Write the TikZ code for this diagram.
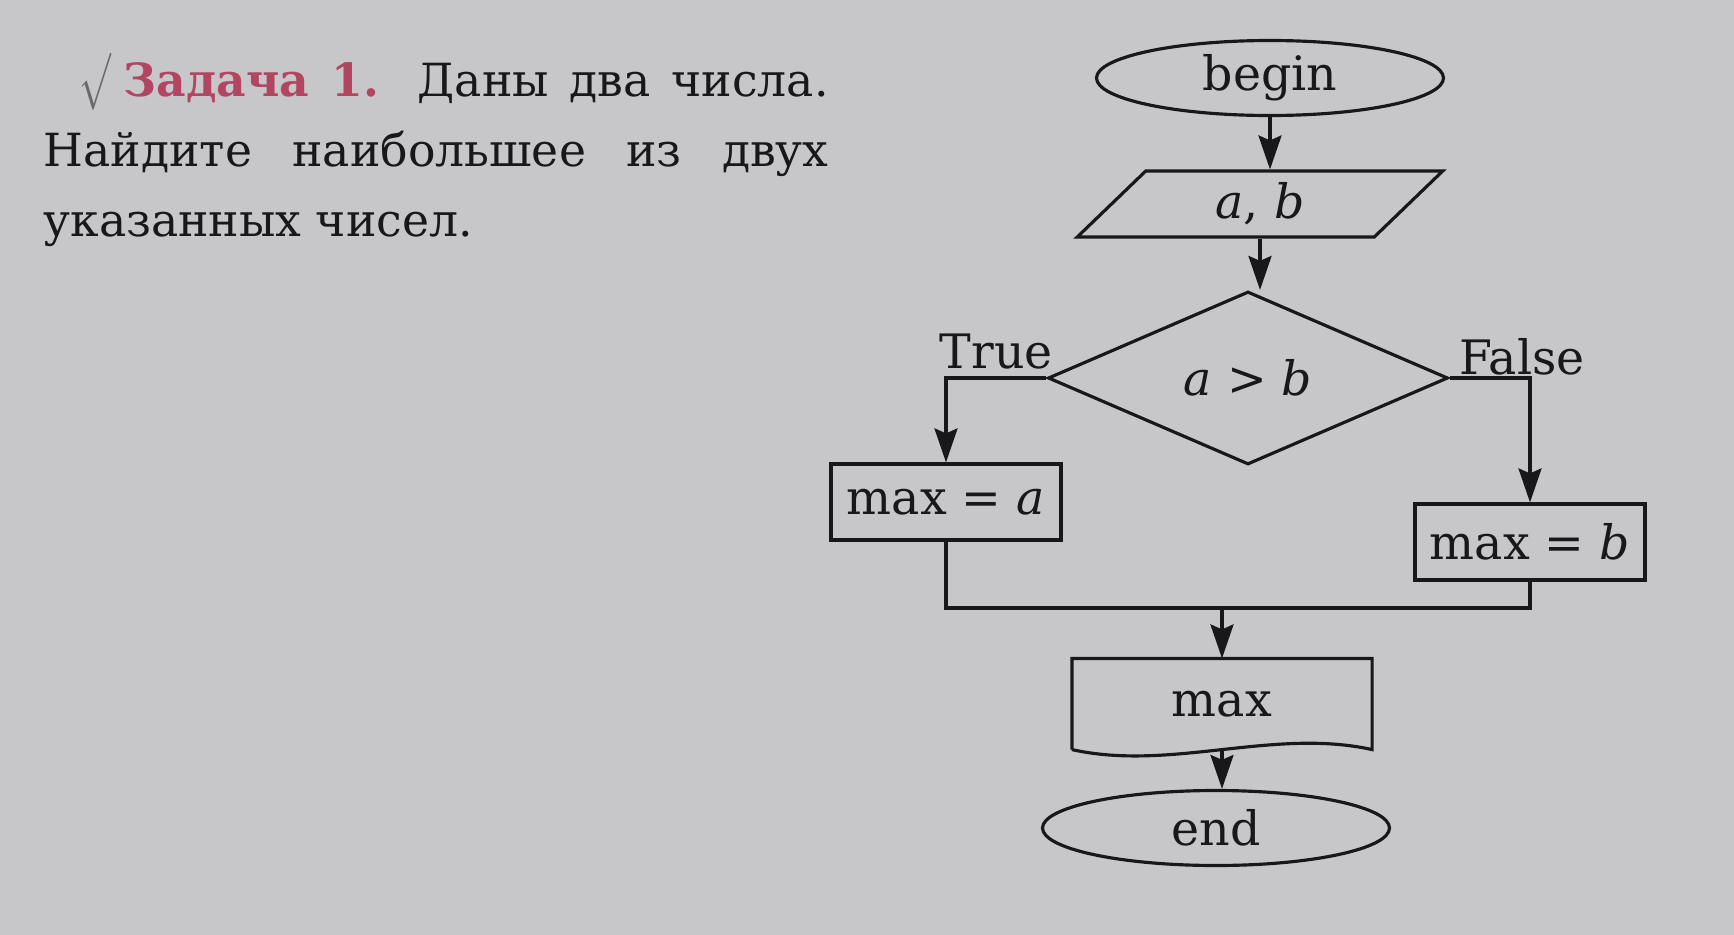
\documentclass[tikz,border=0pt]{standalone}
\usepackage{fontspec}
\usepackage{graphicx}
\setmainfont{DejaVu Serif}
\usetikzlibrary{arrows.meta,positioning,shapes.geometric,calc}
\definecolor{paper}{RGB}{199,199,201}
\definecolor{ink}{RGB}{24,24,26}
\definecolor{taskred}{RGB}{178,70,98}
\definecolor{tickgray}{RGB}{105,105,108}
\newcommand{\chartfont}{\fontsize{13.5}{16}\selectfont}
\newcommand{\taskfont}{\fontsize{13}{20}\selectfont}
\tikzset{
    % flowchart blocks
    terminal/.style={ellipse,draw,minimum width=3.47cm,minimum height=0.75cm,inner sep=0pt,font=\chartfont},
    inputbox/.style={trapezium,draw,trapezium left angle=63,trapezium right angle=117,trapezium stretches=true,minimum width=3.67cm,minimum height=0.64cm,font=\chartfont},
    decision/.style={diamond,draw,aspect=2.3,minimum width=4cm,minimum height=1.73cm,inner sep=0pt,font=\chartfont},
    process/.style={rectangle,draw,minimum width=2.3cm,minimum height=0.76cm,font=\chartfont},
    outputbox/.style={rectangle,minimum width=2.97cm,minimum height=0.88cm,font=\chartfont},
    branch/.style={font=\chartfont,inner sep=0pt},
    taskpara/.style={text width=7.85cm,align=justify,inner sep=0pt,font=\taskfont},
    % connectors
    arrow/.style={-{Stealth[length=3.4mm,width=2.3mm,inset=0.5mm]}},
    line/.style={-}
}

\begin{document}
\begin{tikzpicture}[color=ink,line width=0.9pt]
    % paper
    \fill[paper] (0,0) rectangle (17.34,-9.35);

    % task text
    \node[taskpara,anchor=north west] (task) at (0.42,-0.52) {\makebox[0.8cm][l]{\hspace{0.36cm}\textcolor{tickgray}{\scalebox{0.9}[1.35]{$\surd$}}}\textcolor{taskred}{\textbf{Задача 1.}} Даны два числа.\linebreak Найдите наибольшее из двух\linebreak указанных чисел.};

    % blocks
    \node[terminal] (begin) at (12.70,-0.78) {begin};
    \node[inputbox] (ab) at (12.60,-2.04) {\textit{a}, \textit{b}};
    \node[decision] (cmp) at (12.48,-3.78) {\textit{a} > \textit{b}};
    \node[process] (maxa) at (9.46,-5.02) {max = \textit{a}};
    \node[process] (maxb) at (15.30,-5.42) {max = \textit{b}};
    \node[outputbox] (out) at (12.22,-7.04) {max};
    \node[terminal] (end) at (12.16,-8.28) {end};

    % output block with wavy bottom
    \draw (out.south west) -- (out.north west) -- (out.north east) -- (out.south east)
        .. controls ($(out.south east)+(-0.99,0.22)$) and ($(out.south west)+(0.99,-0.22)$) .. (out.south west);

    % branch labels
    \node[branch,anchor=base east] (truelbl) at ($(cmp.west)+(0.08,0.1)$) {True};
    \node[branch,anchor=base west] (falselbl) at ($(cmp.east)+(0.08,0.04)$) {False};

    % merge point
    \coordinate (join) at (12.22,-6.08);

    % connectors
    \draw[arrow] (begin.south) -- (begin.south |- ab.north);
    \draw[arrow] (ab.south) -- (ab.south |- cmp.north);
    \draw[arrow] (cmp.west) -| (maxa.north);
    \draw[arrow] (cmp.east) -| (maxb.north);
    \draw[line] (maxa.south) |- (join) -| (maxb.south);
    \draw[arrow] (join) -- (out.north);
    \draw[arrow] (out.south) -- (out.south |- end.north);
\end{tikzpicture}
\end{document}
